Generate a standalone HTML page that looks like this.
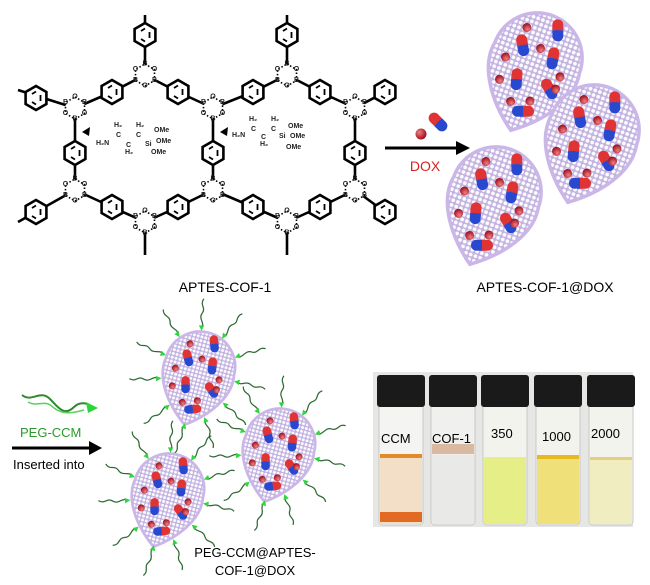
<!DOCTYPE html>
<html><head><meta charset="utf-8"><style>
body{margin:0;background:#fff;}
svg{display:block;font-family:"Liberation Sans",Arial,sans-serif;}
.bx text{font-size:7px;font-weight:bold;text-anchor:middle;dominant-baseline:central;fill:#222;}
.ap{font-size:7px;font-weight:bold;fill:#222;}
</style></head><body>
<svg width="650" height="585" viewBox="0 0 650 585">
<defs>
<g id="ring"><polygon points="0,-12 10.4,-6 10.4,6 0,12 -10.4,6 -10.4,-6" fill="#fff" stroke="#000" stroke-width="2.6"/><path d="M-4,-4 L0,-6.5 M4.5,-3 L4.5,3 M-4,4 L0,6.5" stroke="#000" stroke-width="1.8"/></g>
<g id="bxo"><polygon points="0,-11 9.5,-5.5 9.5,5.5 0,11 -9.5,5.5 -9.5,-5.5" fill="#fff" stroke="#000" stroke-width="1.6" stroke-dasharray="1.5,2"/></g>
<pattern id="mesh" width="5" height="5" patternUnits="userSpaceOnUse"><rect width="5" height="5" fill="#c2b2e0"/><circle cx="2.5" cy="2.5" r="1.9" fill="#fdfcff"/></pattern>
<path id="drop" d="M0,-62 C28,-42 50,-12 45,15 A45 45 0 0 1 -45 15 C-50,-12 -28,-42 0,-62 Z" fill="url(#mesh)" stroke="#cbb6e8" stroke-width="3.5"/>
<radialGradient id="rs" cx="35%" cy="35%" r="65%"><stop offset="0" stop-color="#f08080"/><stop offset="1" stop-color="#a01020"/></radialGradient>
<g id="cap"><rect x="-5.5" y="-11" width="11" height="12" rx="5.5" fill="#e03434"/><rect x="-5.5" y="-1" width="11" height="12" rx="5.5" fill="#2848d0"/><rect x="-5.5" y="-3" width="11" height="3" fill="#e03434"/><rect x="-5.5" y="0" width="11" height="3" fill="#2848d0"/></g>
<circle id="sph" r="4.5" fill="url(#rs)"/>
<g id="load">
<use href="#drop"/>
<use href="#cap" transform="translate(-15,20) rotate(170)"/><use href="#cap" transform="translate(18,22) rotate(150)"/>
<use href="#cap" transform="translate(-22,-10) rotate(130)"/><use href="#cap" transform="translate(12,-12) rotate(165)"/>
<use href="#cap" transform="translate(-5,-40) rotate(250)"/><use href="#cap" transform="translate(-10,48) rotate(160)"/>
<use href="#sph" x="0" y="25"/><use href="#sph" x="-8" y="-28"/><use href="#sph" x="-28" y="5"/>
<use href="#sph" x="-28" y="-8"/><use href="#sph" x="28" y="-18"/><use href="#sph" x="10" y="-35"/><use href="#sph" x="20" y="40"/><use href="#sph" x="30" y="5"/>
</g>
<g id="chain"><path d="M0,-3 c5,-8 -5,-12 1,-20 c5,-7 -4,-10 2,-18" fill="none" stroke="#2f6a35" stroke-width="1.6"/><polygon points="0,0 -3.5,-7 3.5,-7" fill="#2fd43e"/></g>
<g id="peg">
<use href="#load"/>
<use href="#chain" transform="translate(0,-60) rotate(0)"/><use href="#chain" transform="translate(25,-42) rotate(35)"/>
<use href="#chain" transform="translate(44,-12) rotate(70)"/><use href="#chain" transform="translate(46,18) rotate(95)"/>
<use href="#chain" transform="translate(35,45) rotate(130)"/><use href="#chain" transform="translate(10,60) rotate(165)"/>
<use href="#chain" transform="translate(-18,57) rotate(200)"/><use href="#chain" transform="translate(-40,38) rotate(235)"/>
<use href="#chain" transform="translate(-47,8) rotate(265)"/><use href="#chain" transform="translate(-40,-22) rotate(295)"/>
<use href="#chain" transform="translate(-22,-46) rotate(325)"/>
</g>
</defs>

<g stroke="#000" stroke-width="2.6">
<line x1="145" y1="15" x2="145" y2="75"/><line x1="145" y1="75" x2="112" y2="92"/><line x1="145" y1="75" x2="178" y2="92"/>
<line x1="287" y1="15" x2="287" y2="75"/><line x1="287" y1="75" x2="253" y2="92"/><line x1="287" y1="75" x2="320" y2="92"/>
<line x1="18" y1="90" x2="75" y2="108"/><line x1="112" y1="92" x2="75" y2="108"/><line x1="75" y1="108" x2="75" y2="190"/>
<line x1="75" y1="190" x2="18" y2="222"/><line x1="75" y1="190" x2="112" y2="207"/>
<line x1="178" y1="92" x2="213" y2="108"/><line x1="253" y1="92" x2="213" y2="108"/><line x1="213" y1="108" x2="213" y2="190"/>
<line x1="213" y1="190" x2="178" y2="207"/><line x1="213" y1="190" x2="253" y2="207"/>
<line x1="320" y1="92" x2="355" y2="108"/><line x1="385" y1="92" x2="355" y2="108"/><line x1="355" y1="108" x2="355" y2="190"/>
<line x1="355" y1="190" x2="320" y2="207"/><line x1="355" y1="190" x2="385" y2="212"/>
<line x1="112" y1="207" x2="145" y2="222"/><line x1="178" y1="207" x2="145" y2="222"/><line x1="145" y1="222" x2="145" y2="255"/>
<line x1="253" y1="207" x2="287" y2="222"/><line x1="320" y1="207" x2="287" y2="222"/><line x1="287" y1="222" x2="287" y2="255"/>
</g>
<g>
<use href="#ring" x="145" y="35"/><use href="#ring" x="287" y="35"/>
<use href="#ring" x="36" y="98"/><use href="#ring" x="112" y="92"/><use href="#ring" x="178" y="92"/><use href="#ring" x="253" y="92"/><use href="#ring" x="320" y="92"/><use href="#ring" x="385" y="92"/>
<use href="#ring" x="75" y="153"/><use href="#ring" x="213" y="153"/><use href="#ring" x="355" y="153"/>
<use href="#ring" x="36" y="212"/><use href="#ring" x="112" y="207"/><use href="#ring" x="178" y="207"/><use href="#ring" x="253" y="207"/><use href="#ring" x="320" y="207"/><use href="#ring" x="385" y="212"/>
</g>
<g class="bx">
<g transform="translate(145,75)"><use href="#bxo"/><text x="0" y="-11">B</text><text x="9.5" y="-5.5">O</text><text x="9.5" y="5.5">B</text><text x="0" y="11">O</text><text x="-9.5" y="5.5">B</text><text x="-9.5" y="-5.5">O</text></g>
<g transform="translate(287,75)"><use href="#bxo"/><text x="0" y="-11">B</text><text x="9.5" y="-5.5">O</text><text x="9.5" y="5.5">B</text><text x="0" y="11">O</text><text x="-9.5" y="5.5">B</text><text x="-9.5" y="-5.5">O</text></g>
<g transform="translate(75,190)"><use href="#bxo"/><text x="0" y="-11">B</text><text x="9.5" y="-5.5">O</text><text x="9.5" y="5.5">B</text><text x="0" y="11">O</text><text x="-9.5" y="5.5">B</text><text x="-9.5" y="-5.5">O</text></g>
<g transform="translate(213,190)"><use href="#bxo"/><text x="0" y="-11">B</text><text x="9.5" y="-5.5">O</text><text x="9.5" y="5.5">B</text><text x="0" y="11">O</text><text x="-9.5" y="5.5">B</text><text x="-9.5" y="-5.5">O</text></g>
<g transform="translate(355,190)"><use href="#bxo"/><text x="0" y="-11">B</text><text x="9.5" y="-5.5">O</text><text x="9.5" y="5.5">B</text><text x="0" y="11">O</text><text x="-9.5" y="5.5">B</text><text x="-9.5" y="-5.5">O</text></g>
<g transform="translate(75,108)"><use href="#bxo"/><text x="0" y="-11">O</text><text x="9.5" y="-5.5">B</text><text x="9.5" y="5.5">O</text><text x="0" y="11">B</text><text x="-9.5" y="5.5">O</text><text x="-9.5" y="-5.5">B</text></g>
<g transform="translate(213,108)"><use href="#bxo"/><text x="0" y="-11">O</text><text x="9.5" y="-5.5">B</text><text x="9.5" y="5.5">O</text><text x="0" y="11">B</text><text x="-9.5" y="5.5">O</text><text x="-9.5" y="-5.5">B</text></g>
<g transform="translate(355,108)"><use href="#bxo"/><text x="0" y="-11">O</text><text x="9.5" y="-5.5">B</text><text x="9.5" y="5.5">O</text><text x="0" y="11">B</text><text x="-9.5" y="5.5">O</text><text x="-9.5" y="-5.5">B</text></g>
<g transform="translate(145,222)"><use href="#bxo"/><text x="0" y="-11">O</text><text x="9.5" y="-5.5">B</text><text x="9.5" y="5.5">O</text><text x="0" y="11">B</text><text x="-9.5" y="5.5">O</text><text x="-9.5" y="-5.5">B</text></g>
<g transform="translate(287,222)"><use href="#bxo"/><text x="0" y="-11">O</text><text x="9.5" y="-5.5">B</text><text x="9.5" y="5.5">O</text><text x="0" y="11">B</text><text x="-9.5" y="5.5">O</text><text x="-9.5" y="-5.5">B</text></g>
</g>
<polygon points="82,132 90,127 89,136" fill="#000"/><polygon points="220,132 228,127 227,136" fill="#000"/>
<g class="ap">
<text x="96" y="145">H₂N</text><text x="114" y="127">H₂</text><text x="116" y="137">C</text><text x="126" y="147">C</text><text x="125" y="154">H₂</text>
<text x="136" y="127">H₂</text><text x="136" y="137">C</text><text x="145" y="146">Si</text><text x="154" y="132">OMe</text><text x="156" y="143">OMe</text><text x="151" y="154">OMe</text>
<text x="232" y="137">H₂N</text><text x="249" y="121">H₂</text><text x="251" y="131">C</text><text x="261" y="139">C</text><text x="260" y="146">H₂</text>
<text x="271" y="121">H₂</text><text x="271" y="131">C</text><text x="279" y="138">Si</text><text x="288" y="128">OMe</text><text x="290" y="138">OMe</text><text x="286" y="149">OMe</text>
</g>
<text x="225" y="292" font-size="14" text-anchor="middle">APTES-COF-1</text>

<line x1="385" y1="148" x2="460" y2="148" stroke="#000" stroke-width="3"/><polygon points="470,148 456,141 456,155" fill="#000"/>
<circle cx="421" cy="134" r="5.5" fill="url(#rs)"/>
<use href="#cap" transform="translate(438,122) rotate(-45)"/>
<text x="425" y="171" font-size="14" fill="#e02020" text-anchor="middle">DOX</text>

<use href="#load" transform="translate(532,72) rotate(200)"/>
<use href="#load" transform="translate(589,144) rotate(200)"/>
<use href="#load" transform="translate(491,206) rotate(200)"/>
<text x="545" y="292" font-size="14" text-anchor="middle">APTES-COF-1@DOX</text>

<path d="M22,395 c10,8 18,-6 28,4 c8,8 14,18 24,8 c6,-6 14,-4 18,0" fill="none" stroke="#2f8a2f" stroke-width="2"/>
<path d="M28,402 c10,6 16,-4 26,6 c8,6 16,6 30,2" fill="none" stroke="#5ccf5c" stroke-width="1.5"/>
<polygon points="98,408 86,402 88,413" fill="#2bd43a"/>
<text x="20" y="437" font-size="13" fill="#2a9a2a">PEG-CCM</text>
<line x1="12" y1="448" x2="92" y2="448" stroke="#000" stroke-width="3"/><polygon points="102,448 89,441 89,455" fill="#000"/>
<text x="13" y="469" font-size="13">Inserted into</text>
<use href="#peg" transform="translate(197,378) rotate(195) scale(0.78)"/>
<use href="#peg" transform="translate(277,455) rotate(195) scale(0.78)"/>
<use href="#peg" transform="translate(166,500) rotate(195) scale(0.78)"/>
<text x="255" y="557" font-size="13" text-anchor="middle">PEG-CCM@APTES-</text>
<text x="255" y="575" font-size="13" text-anchor="middle">COF-1@DOX</text>

<rect x="373" y="372" width="260" height="155" fill="#e6e6e4"/>
<g>
<g transform="translate(377,0)"><rect x="2" y="403" width="44" height="122" rx="4" fill="#f4f4f2" stroke="#c8c8c8"/><rect x="3" y="455" width="42" height="69" fill="#f3dfc8"/><rect x="3" y="454" width="42" height="4" fill="#e38a2a"/><rect x="3" y="512" width="42" height="10" fill="#e26a22"/><rect x="0" y="375" width="48" height="32" rx="3" fill="#1a1a1a"/><text x="4" y="443" font-size="13">CCM</text></g>
<g transform="translate(429,0)"><rect x="2" y="403" width="44" height="122" rx="4" fill="#f0f0ef" stroke="#c8c8c8"/><rect x="3" y="455" width="42" height="69" fill="#e9e9e8"/><rect x="3" y="444" width="42" height="10" fill="#d9b9a0"/><rect x="0" y="375" width="48" height="32" rx="3" fill="#1a1a1a"/><text x="3" y="443" font-size="13">COF-1</text></g>
<g transform="translate(481,0)"><rect x="2" y="403" width="44" height="122" rx="4" fill="#f3f3ee" stroke="#c8c8c8"/><rect x="3" y="457" width="42" height="67" fill="#e6ee88"/><rect x="0" y="375" width="48" height="32" rx="3" fill="#1a1a1a"/><text x="10" y="438" font-size="13">350</text></g>
<g transform="translate(534,0)"><rect x="2" y="403" width="44" height="122" rx="4" fill="#f3f3ee" stroke="#c8c8c8"/><rect x="3" y="457" width="42" height="67" fill="#f0e07a"/><rect x="3" y="455" width="42" height="4" fill="#e8b820"/><rect x="0" y="375" width="48" height="32" rx="3" fill="#1a1a1a"/><text x="8" y="441" font-size="13">1000</text></g>
<g transform="translate(587,0)"><rect x="2" y="403" width="44" height="122" rx="4" fill="#f3f3ee" stroke="#c8c8c8"/><rect x="3" y="459" width="42" height="65" fill="#f0edc0"/><rect x="3" y="457" width="42" height="3" fill="#e0d080"/><rect x="0" y="375" width="48" height="32" rx="3" fill="#1a1a1a"/><text x="4" y="438" font-size="13">2000</text></g>
</g>
</svg>
</body></html>
